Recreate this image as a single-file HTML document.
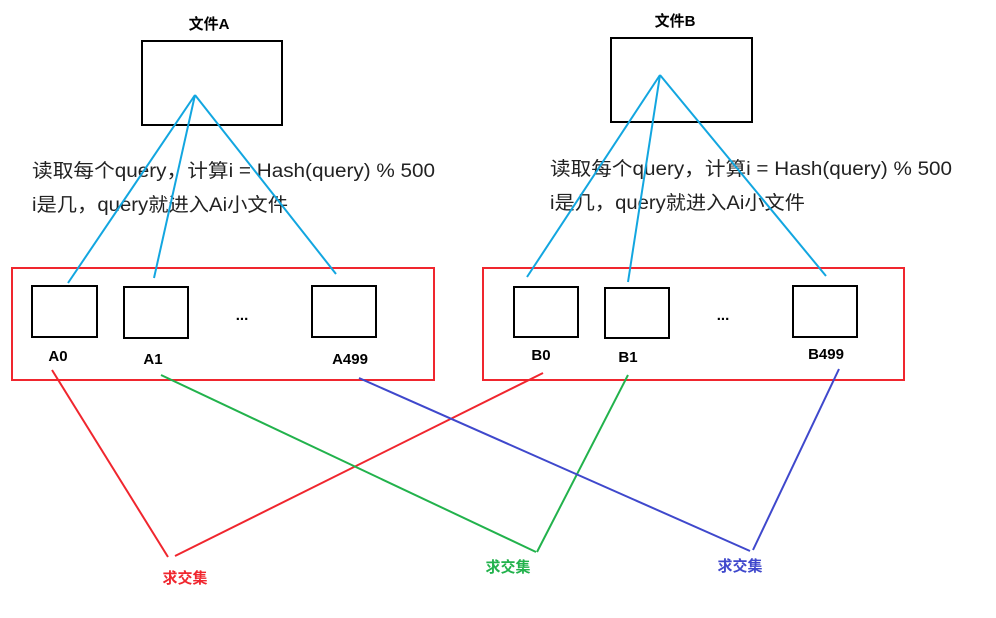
<!DOCTYPE html>
<html><head><meta charset="utf-8"><style>
body{margin:0;background:#fff;}
svg text{font-family:"Liberation Sans","Noto Sans CJK SC",sans-serif;}
</style></head><body>
<svg width="996" height="613" viewBox="0 0 996 613" xmlns="http://www.w3.org/2000/svg">
<rect width="996" height="613" fill="#fff"/>
<g fill="none" stroke="#000" stroke-width="2">
<rect x="142" y="41" width="140" height="84"/>
<rect x="611" y="38" width="141" height="84"/>
<rect x="32" y="286" width="65" height="51"/>
<rect x="124" y="287" width="64" height="51"/>
<rect x="312" y="286" width="64" height="51"/>
<rect x="514" y="287" width="64" height="50"/>
<rect x="605" y="288" width="64" height="50"/>
<rect x="793" y="286" width="64" height="51"/>
</g>
<g fill="none" stroke="#f0262e" stroke-width="2">
<rect x="12" y="268" width="422" height="112"/>
<rect x="483" y="268" width="421" height="112"/>
</g>
<g font-size="19" fill="#222">
<text x="32" y="177" textLength="403" lengthAdjust="spacingAndGlyphs">读取每个query，计算i = Hash(query) % 500</text>
<text x="32" y="211" textLength="256" lengthAdjust="spacingAndGlyphs">i是几，query就进入Ai小文件</text>
<text x="550" y="175" textLength="402" lengthAdjust="spacingAndGlyphs">读取每个query，计算i = Hash(query) % 500</text>
<text x="550" y="209" textLength="255" lengthAdjust="spacingAndGlyphs">i是几，query就进入Ai小文件</text>
</g>
<g stroke="#12a6e0" stroke-width="2">
<line x1="195" y1="95" x2="68" y2="283"/>
<line x1="195" y1="95" x2="154" y2="278"/>
<line x1="195" y1="95" x2="336" y2="274"/>
<line x1="660" y1="75" x2="527" y2="277"/>
<line x1="660" y1="75" x2="628" y2="282"/>
<line x1="660" y1="75" x2="826" y2="276"/>
</g>
<g font-size="15" font-weight="bold" fill="#000" text-anchor="middle">
<text x="209" y="29">文件A</text>
<text x="675" y="26">文件B</text>
<text x="58" y="361">A0</text>
<text x="153" y="364">A1</text>
<text x="350" y="364">A499</text>
<text x="541" y="360">B0</text>
<text x="628" y="362">B1</text>
<text x="826" y="359">B499</text>
<text x="242" y="320">...</text>
<text x="723" y="320">...</text>
</g>
<line x1="52" y1="370" x2="168" y2="557" stroke="#f0262e" stroke-width="2"/>
<line x1="543" y1="373" x2="175" y2="556" stroke="#f0262e" stroke-width="2"/>
<line x1="161" y1="375" x2="536" y2="552" stroke="#22b24c" stroke-width="2"/>
<line x1="628" y1="375" x2="537" y2="552" stroke="#22b24c" stroke-width="2"/>
<line x1="359" y1="378" x2="750" y2="551" stroke="#3f48cc" stroke-width="2"/>
<line x1="839" y1="369" x2="753" y2="550" stroke="#3f48cc" stroke-width="2"/>
<g font-size="15" font-weight="bold" text-anchor="middle">
<text x="185" y="583" fill="#f0262e">求交集</text>
<text x="508" y="572" fill="#22b24c">求交集</text>
<text x="740" y="571" fill="#3f48cc">求交集</text>
</g>
</svg>
</body></html>
